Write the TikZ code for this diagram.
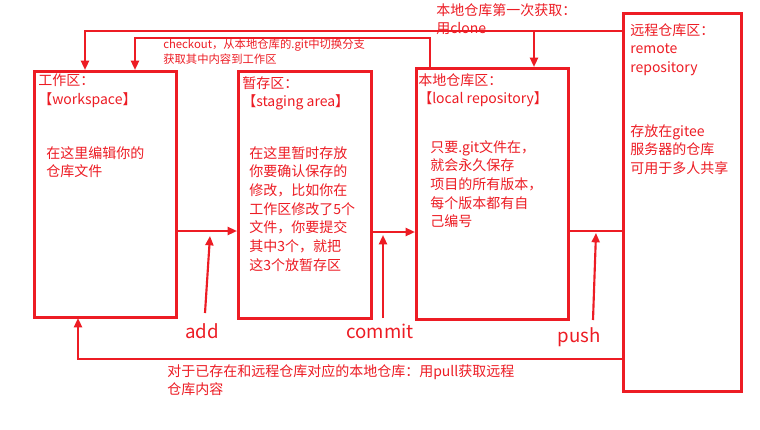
\documentclass[tikz,border=0pt]{standalone}
\usepackage{fontspec}
\setmainfont{Noto Sans CJK SC}
\usetikzlibrary{arrows.meta}
\definecolor{rd}{RGB}{237,28,36}
\begin{document}
\begin{tikzpicture}[x=0.75pt,y=-0.75pt,
  box/.style={draw=rd,line width=2.2pt},
  arr/.style={draw=rd,line width=1.6pt,-{Triangle[length=7pt,width=6pt]}},
  ln/.style={draw=rd,line width=1.6pt},
  txt/.style={text=rd,font=\fontsize{10.5pt}{14pt}\selectfont,anchor=north west,inner sep=0pt,align=left},
  big/.style={text=rd,font=\fontsize{14pt}{16pt}\selectfont,inner sep=0pt}]
\useasboundingbox[fill=white] (0,0) rectangle (760,429);
\node[box,minimum width=142pt*0.75,minimum height=246pt*0.75,anchor=north west] (ws) at (33,70) {};
\node[box,minimum width=133pt*0.75,minimum height=247pt*0.75,anchor=north west] (st) at (237,70) {};
\node[box,minimum width=152pt*0.75,minimum height=251pt*0.75,anchor=north west] (lr) at (415,67) {};
\node[box,minimum width=118pt*0.75,minimum height=378pt*0.75,anchor=north west] (rr) at (622,12) {};
\node[txt] (t1) at (38,74) {工作区：\\【workspace】};
\node[txt] (t1b) at (46,146) {在这里编辑你的\\仓库文件};
\node[txt] (t2) at (242,76) {暂存区：\\【staging area】};
\node[txt] (t2b) at (249,146) {在这里暂时存放\\你要确认保存的\\修改，比如你在\\工作区修改了5个\\文件，你要提交\\其中3个，就把\\这3个放暂存区};
\node[txt] (t3) at (418,73) {本地仓库区：\\【local repository】};
\node[txt] (t3b) at (430,140) {只要.git文件在，\\就会永久保存\\项目的所有版本，\\每个版本都有自\\己编号};
\node[txt] (t4) at (630,23) {远程仓库区：\\remote\\repository};
\node[txt] (t4b) at (630,124) {存放在gitee\\服务器的仓库\\可用于多人共享};
\node[txt] (clone) at (436,3) {本地仓库第一次获取：\\用clone};
\node[txt,font=\fontsize{8.5pt}{11pt}\selectfont] (co) at (163,39) {checkout，从本地仓库的.git中切换分支\\获取其中内容到工作区};
\node[txt] (pull) at (167,364) {对于已存在和远程仓库对应的本地仓库：用pull获取远程\\仓库内容};
\node[big] (add) at (202,331) {add};
\node[big] (commit) at (380,331) {commit};
\node[big] (push) at (579,337) {push};
\coordinate (c1) at (85,31);
\draw[arr] (rr.north west|-c1) -- (c1) -- (85,70);
\draw[arr] (534,31) -- (534,67);
\draw[arr] (430,67) -- (430,38) -- (135,38) -- (135,70);
\draw[arr] (175,231) -- (237,231);
\draw[arr] (370,232) -- (415,232);
\draw[ln] (567,231) -- (622,231);
\draw[arr] (205,313) -- (210,236);
\draw[arr] (383,318) -- (383,235);
\draw[arr] (593,320) -- (596,233);
\draw[arr] (622,359) -- (78,359) -- (78,318);
\end{tikzpicture}
\end{document}
